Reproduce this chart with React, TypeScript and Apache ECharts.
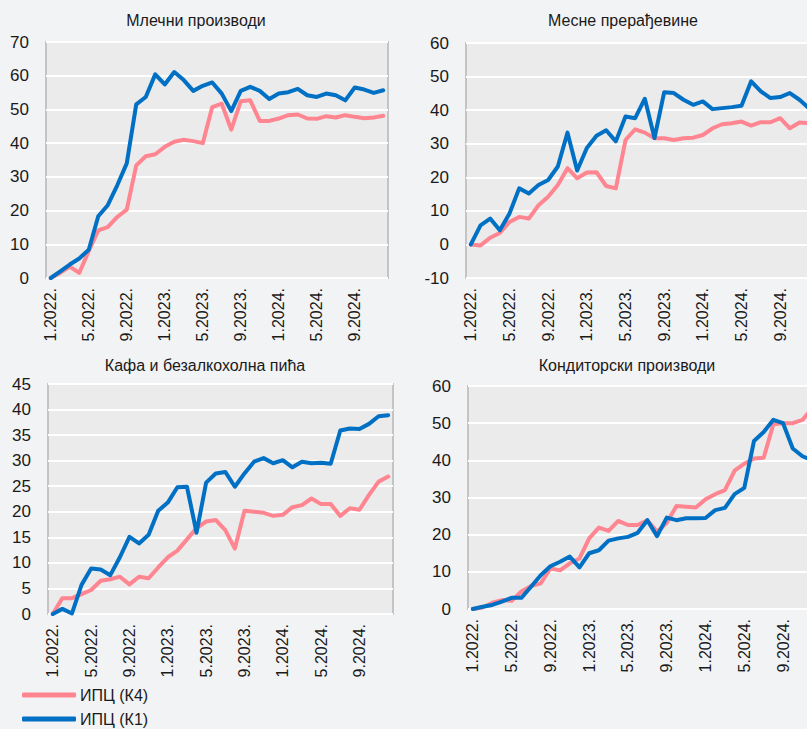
import React, { useEffect, useRef } from "react";
import * as echarts from "echarts";

const months: string[] = [];
for (const y of [2022, 2023, 2024]) for (let m = 1; m <= 12; m++) months.push(`${m}.${y}.`);

const titles = ["Млечни производи", "Месне прерађевине", "Кафа и безалкохолна пића", "Кондиторски производи"];
const seriesNames = ["ИПЦ (К4)", "ИПЦ (К1)"];

const dairyK4 = [0, 1.5, 3.4, 1.5, 8, 14.1, 15.1, 18.1, 20.3, 33.4, 36.1, 36.7, 38.9, 40.4, 41, 40.6, 40, 50.7, 51.7, 44, 52.4, 52.7, 46.6, 46.6, 47.3, 48.3, 48.5, 47.3, 47.2, 48, 47.6, 48.3, 47.8, 47.4, 47.6, 48.1];
const dairyK1 = [0, 2, 4, 5.8, 8.4, 18.3, 21.6, 27.5, 34, 51.5, 53.7, 60.4, 57.4, 61.1, 58.7, 55.5, 57, 58, 54.7, 49.5, 55.5, 56.7, 55.5, 53.1, 54.7, 55.1, 56.1, 54.2, 53.7, 54.7, 54.2, 52.7, 56.5, 55.9, 54.9, 55.7];

const meatK4 = [0, -0.3, 2, 3.4, 6.7, 8.2, 7.7, 11.7, 14.2, 17.7, 22.7, 19.7, 21.4, 21.5, 17.4, 16.7, 31.1, 34.3, 33.3, 31.6, 31.6, 31.1, 31.6, 31.8, 32.6, 34.6, 35.8, 36.1, 36.6, 35.4, 36.4, 36.4, 37.6, 34.6, 36.3, 36.1];
const meatK1 = [0, 5.7, 7.7, 4.2, 9.2, 16.7, 15.2, 17.7, 19.2, 23.2, 33.3, 22, 28.7, 32.4, 34, 30.7, 38.1, 37.6, 43.4, 31.7, 45.3, 45.1, 43.1, 41.6, 42.6, 40.3, 40.6, 40.9, 41.3, 48.6, 45.6, 43.6, 43.9, 45.1, 43.1, 40.5];

const coffeeK4 = [0, 3.1, 3.1, 3.9, 4.7, 6.5, 6.8, 7.3, 5.8, 7.3, 7, 9.1, 11.1, 12.4, 14.6, 16.8, 18.1, 18.4, 16.4, 12.8, 20.2, 20, 19.8, 19.2, 19.4, 20.9, 21.3, 22.6, 21.5, 21.5, 19.2, 20.7, 20.4, 23.3, 25.9, 26.9];
const coffeeK1 = [0, 1, 0.1, 5.7, 8.9, 8.7, 7.6, 11.1, 15.1, 13.8, 15.5, 20.2, 21.8, 24.8, 24.9, 15.9, 25.7, 27.5, 27.8, 24.9, 27.5, 29.8, 30.5, 29.5, 30.1, 28.7, 29.8, 29.5, 29.6, 29.4, 35.9, 36.3, 36.2, 37.2, 38.7, 38.9];

const candyK4 = [0, 0.4, 1.7, 2.4, 2.2, 4.7, 6.2, 6.9, 10.9, 10.4, 12.3, 13.6, 19, 21.9, 21, 23.7, 22.6, 22.6, 23.9, 20.8, 23.2, 27.7, 27.5, 27.3, 29.5, 30.9, 32, 37.2, 39.1, 40.5, 40.7, 49.7, 50, 50, 50.9, 53.9];
const candyK1 = [0, 0.6, 1.1, 2, 3, 3, 6, 9.1, 11.5, 12.7, 14.1, 11.2, 15, 15.8, 18.4, 19, 19.4, 20.5, 23.9, 19.6, 24.6, 23.9, 24.4, 24.4, 24.5, 26.6, 27.2, 30.9, 32.6, 45.2, 47.6, 50.9, 50, 43.2, 41.1, 40];

const yMin = [0, -10, 0, 0];
const yMax = [70, 60, 45, 60];
const yStep = [10, 10, 5, 10];

const K4_COLOR = "#ff8591";
const K1_COLOR = "#0070c4";
const FONT = 'Arial, "Liberation Sans", sans-serif';

export default function App() {
  const ref = useRef<HTMLDivElement>(null);
  useEffect(() => {
    if (!ref.current) return;
    const chart = echarts.init(ref.current, undefined, { renderer: "svg" });
    const grids = [
      { left: 46, top: 42, width: 342, height: 236 },
      { left: 466, top: 43, width: 348, height: 235 },
      { left: 48, top: 384, width: 345, height: 230 },
      { left: 468, top: 386, width: 349, height: 223 },
    ];
    const titlePos = [
      [196, 20],
      [623, 20],
      [205, 365],
      [627, 365],
    ];
    const data = [
      [dairyK4, dairyK1],
      [meatK4, meatK1],
      [coffeeK4, coffeeK1],
      [candyK4, candyK1],
    ];
    const series: any[] = [];
    data.forEach((pair, gi) => {
      pair.forEach((vals, si) => {
        series.push({
          name: seriesNames[si],
          type: "line",
          xAxisIndex: gi,
          yAxisIndex: gi,
          data: vals,
          symbol: "none",
          lineStyle: { width: 4, color: si === 0 ? K4_COLOR : K1_COLOR, cap: "round", join: "round" },
          itemStyle: { color: si === 0 ? K4_COLOR : K1_COLOR },
          z: 2 + si,
        });
      });
    });
    const legendTops = [687, 711];
    chart.setOption({
      animation: false,
      backgroundColor: "#f2f3f5",
      textStyle: { fontFamily: FONT },
      grid: grids.map((g) => ({
        ...g,
        show: true,
        backgroundColor: "#ebebeb",
        borderColor: "#c4c4c4",
        borderWidth: 2,
        containLabel: false,
      })),
      xAxis: grids.map((_, i) => ({
        type: "category",
        gridIndex: i,
        data: months,
        boundaryGap: true,
        axisLine: { show: false, onZero: false },
        axisTick: { show: false },
        splitLine: { show: false },
        axisLabel: {
          interval: 3,
          rotate: 90,
          fontSize: 16,
          color: "#1a1a1a",
          margin: 10,
          fontFamily: FONT,
        },
      })),
      yAxis: grids.map((_, i) => ({
        type: "value",
        gridIndex: i,
        min: yMin[i],
        max: yMax[i],
        interval: yStep[i],
        axisLine: { show: false },
        axisTick: { show: false },
        splitLine: { show: true, lineStyle: { color: "#ffffff", width: 2 } },
        axisLabel: { fontSize: 17, color: "#1a1a1a", margin: 17, fontFamily: FONT },
      })),
      legend: seriesNames.map((n, i) => ({
        orient: "horizontal",
        left: 22,
        top: legendTops[i],
        padding: 0,
        itemGap: 0,
        data: [n],
        icon: "roundRect",
        itemWidth: 54,
        itemHeight: 5,
        textStyle: { fontSize: 16, color: "#1a1a1a", fontFamily: FONT, padding: [0, 0, 0, -1] },
      })),
      graphic: titles.map((t, i) => ({
        type: "text",
        x: titlePos[i][0],
        y: titlePos[i][1],
        style: {
          text: t,
          fontSize: 16,
          fill: "#1a1a1a",
          fontFamily: FONT,
          textAlign: "center",
          textVerticalAlign: "middle",
        },
      })),
      series,
    });
    return () => chart.dispose();
  }, []);
  return (
    <div
      style={{
        position: "fixed",
        left: 0,
        top: 0,
        width: 807,
        height: 729,
        overflow: "hidden",
        background: "#f2f3f5",
      }}
    >
      <div ref={ref} style={{ width: 830, height: 729 }} />
    </div>
  );
}
